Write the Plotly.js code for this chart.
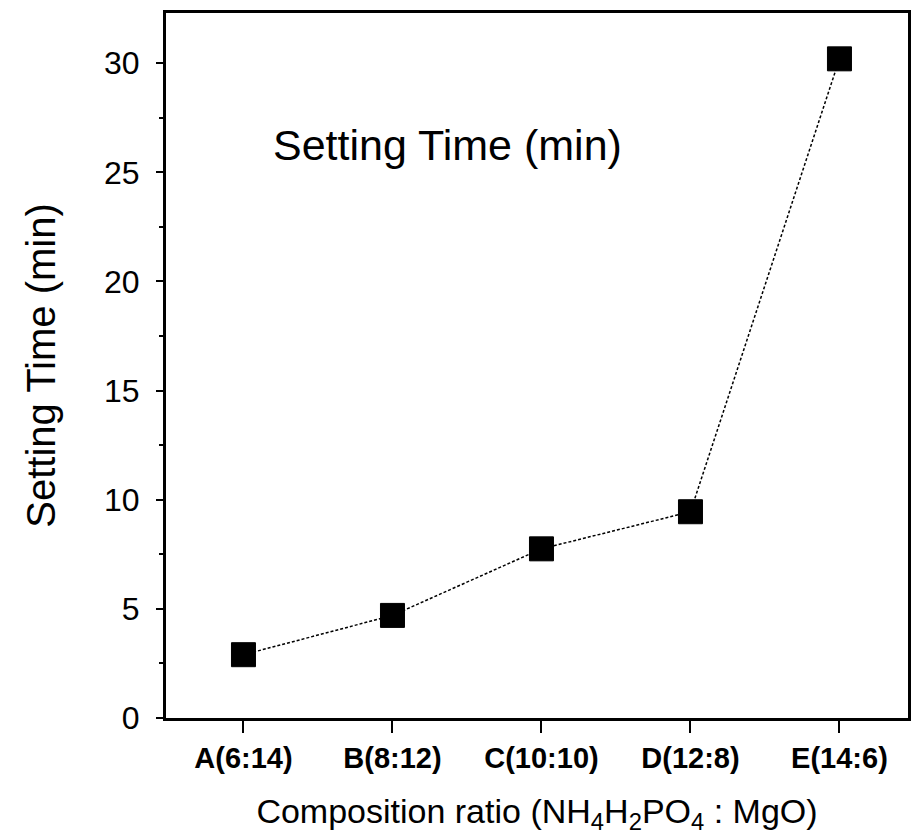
<!DOCTYPE html>
<html>
<head>
<meta charset="utf-8">
<script src="https://cdn.plot.ly/plotly-3.0.1.min.js"></script>
<style>
  html, body { margin: 0; padding: 0; background: #fff; }
  #chart { width: 913px; height: 837px; }
</style>
</head>
<body>
<div id="chart"></div>
<script>
// Composition labels (NH4H2PO4 : MgO) and measured setting times
const compositions = ["A(6:14)", "B(8:12)", "C(10:10)", "D(12:8)", "E(14:6)"];
const positions = [0, 1, 2, 3, 4];
const settingTime = [2.9, 4.7, 7.75, 9.45, 30.2];
const yTicks = [0, 5, 10, 15, 20, 25, 30];

const font = "Liberation Sans, Arial, Helvetica, sans-serif";

const trace = {
  x: positions,
  y: settingTime,
  type: "scatter",
  mode: "lines+markers",
  line: { color: "#000", width: 1.5, dash: "3px,2px" },
  marker: { symbol: "square", size: 24, color: "#000", line: { color: "#000", width: 1 } },
  cliponaxis: false,
  showlegend: false
};

const layout = {
  width: 913,
  height: 837,
  margin: { l: 166, r: 5, t: 13, b: 119 },
  paper_bgcolor: "#fff",
  plot_bgcolor: "#fff",
  font: { family: font, color: "#000" },
  xaxis: {
    range: [-0.52, 4.46],
    tickvals: positions,
    ticktext: compositions,
    ticks: "outside",
    ticklen: 12,
    tickwidth: 2,
    tickcolor: "#000",
    tickfont: { family: font, size: 29, weight: "bold" },
    showline: true,
    linecolor: "#000",
    linewidth: 3,
    mirror: true,
    showgrid: false,
    zeroline: false,
    title: {
      text: "Composition ratio (NH<sub>4</sub>H<sub>2</sub>PO<sub>4</sub> : MgO)",
      font: { family: font, size: 34 },
      standoff: 27
    }
  },
  yaxis: {
    range: [0, 32.3],
    tickvals: yTicks,
    ticktext: yTicks.map(String),
    ticks: "outside",
    ticklen: 7,
    tickwidth: 2,
    tickcolor: "#000",
    tickfont: { family: font, size: 32 },
    ticklabelstandoff: 10,
    minor: { dtick: 2.5, ticks: "outside", ticklen: 4, tickwidth: 2, tickcolor: "#000", showgrid: false },
    showline: true,
    linecolor: "#000",
    linewidth: 3,
    mirror: true,
    showgrid: false,
    zeroline: false,
    title: {
      text: "Setting Time (min)",
      font: { family: font, size: 40 },
      standoff: 37
    }
  },
  annotations: [{
    x: 1.37,
    y: 26.25,
    xref: "x",
    yref: "y",
    text: "Setting Time (min)",
    showarrow: false,
    xanchor: "center",
    yanchor: "middle",
    font: { family: font, size: 43, color: "#000" }
  }]
};

Plotly.newPlot("chart", [trace], layout, { displayModeBar: false, staticPlot: true });
</script>
</body>
</html>
